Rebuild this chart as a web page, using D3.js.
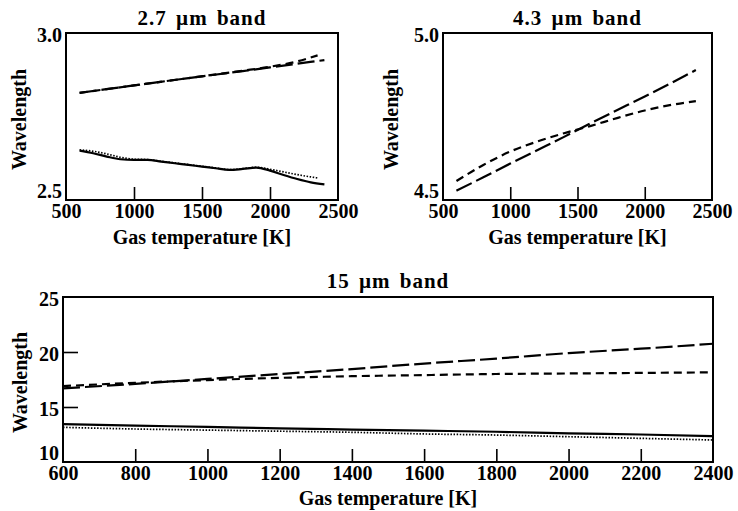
<!DOCTYPE html>
<html>
<head>
<meta charset="utf-8">
<script src="https://cdn.jsdelivr.net/npm/d3@7"></script>
<style>
  html, body { margin: 0; padding: 0; background: #fff; }
  svg { display: block; }
  text { font-family: "Liberation Serif", "Times New Roman", serif; font-weight: bold; fill: #000; }
</style>
</head>
<body>
<svg id="chart" width="738" height="511"></svg>
<script>
// --- Data ---

// 2.7 um band
const t27 = [600, 700, 800, 900, 1000, 1100, 1200, 1300, 1400, 1500, 1600, 1700, 1800, 1900, 2000, 2100, 2200, 2300, 2400];
const solid27 = [2.648, 2.640, 2.630, 2.622, 2.620, 2.620, 2.615, 2.610, 2.605, 2.600, 2.595, 2.590, 2.593, 2.597, 2.588, 2.575, 2.563, 2.553, 2.547];
const tDot27 = [600, 700, 800, 900, 1000, 1100, 1200, 1300, 1400, 1500, 1600, 1700, 1800, 1900, 2000, 2100, 2200, 2300, 2350];
const dotted27 = [2.650, 2.646, 2.638, 2.628, 2.622, 2.621, 2.616, 2.611, 2.606, 2.601, 2.596, 2.591, 2.594, 2.598, 2.592, 2.584, 2.576, 2.569, 2.566];
const tLong27 = [600, 1000, 1400, 1800, 2000, 2200, 2400];
const longDash27 = [2.821, 2.843, 2.865, 2.886, 2.897, 2.908, 2.919];
const tShort27 = [600, 1000, 1400, 1800, 2000, 2200, 2350];
const shortDash27 = [2.821, 2.843, 2.865, 2.887, 2.899, 2.915, 2.933];

// 4.3 um band
const t43 = [600, 800, 1000, 1200, 1400, 1600, 1800, 2000, 2200, 2380];
const longDash43 = [4.528, 4.568, 4.609, 4.649, 4.689, 4.730, 4.770, 4.810, 4.851, 4.889];
const shortDash43 = [4.557, 4.605, 4.645, 4.675, 4.700, 4.722, 4.746, 4.768, 4.785, 4.796];

// 15 um band
const t15 = [600, 800, 1000, 1200, 1400, 1600, 1800, 2000, 2200, 2400];
const longDash15 = [16.7, 17.1, 17.55, 18.0, 18.45, 18.95, 19.4, 19.9, 20.3, 20.75];
const shortDash15 = [16.9, 17.2, 17.45, 17.65, 17.8, 17.9, 18.0, 18.05, 18.1, 18.15];
const solid15 = [13.45, 13.3, 13.2, 13.05, 12.95, 12.85, 12.75, 12.6, 12.5, 12.35];
const dotted15 = [13.15, 13.0, 12.9, 12.8, 12.7, 12.55, 12.45, 12.3, 12.15, 12.0];

const xTicksTop = [500, 1000, 1500, 2000, 2500];
const xTicksBottom = [600, 800, 1000, 1200, 1400, 1600, 1800, 2000, 2200, 2400];

// --- Styles ---

const DASH = {
  solid: null,
  long: "17,5",
  short: "8,5",
  dotted: "1.5,1.6",
};

// --- Panels ---

const svg = d3.select("#chart");

const panels = [
  {
    title: "2.7 µm band",
    box: { x0: 66, x1: 338, y0: 33, y1: 200 },
    xDomain: [500, 2500], yDomain: [2.5, 3.0],
    xLabels: xTicksTop, xInner: [1000, 1500, 2000],
    yLabels: [2.5, 3.0], yInner: [], yFmt: d3.format(".1f"),
    titleY: 25, xLabelY: 244, yLabelX: 26,
    series: [
      { x: t27, y: solid27, style: "solid" },
      { x: tDot27, y: dotted27, style: "dotted" },
      { x: tLong27, y: longDash27, style: "long" },
      { x: tShort27, y: shortDash27, style: "short" },
    ],
  },
  {
    title: "4.3 µm band",
    box: { x0: 443, x1: 712, y0: 33, y1: 200 },
    xDomain: [500, 2500], yDomain: [4.5, 5.0],
    xLabels: xTicksTop, xInner: [1000, 1500, 2000],
    yLabels: [4.5, 5.0], yInner: [], yFmt: d3.format(".1f"),
    titleY: 25, xLabelY: 244, yLabelX: 398,
    series: [
      { x: t43, y: longDash43, style: "long" },
      { x: t43, y: shortDash43, style: "short" },
    ],
  },
  {
    title: "15 µm band",
    box: { x0: 63, x1: 713, y0: 297, y1: 462 },
    xDomain: [600, 2400], yDomain: [10, 25],
    xLabels: xTicksBottom, xInner: xTicksBottom.slice(1, -1),
    yLabels: [10, 15, 20, 25], yInner: [15, 20], yFmt: d3.format("d"),
    titleY: 288, xLabelY: 505, yLabelX: 27,
    series: [
      { x: t15, y: solid15, style: "solid" },
      { x: t15, y: dotted15, style: "dotted" },
      { x: t15, y: longDash15, style: "long" },
      { x: t15, y: shortDash15, style: "short" },
    ],
  },
];

panels.forEach(drawPanel);

function drawPanel(p) {
  const b = p.box;
  const x = d3.scaleLinear().domain(p.xDomain).range([b.x0, b.x1]);
  const y = d3.scaleLinear().domain(p.yDomain).range([b.y1, b.y0]);
  const g = svg.append("g");

  // Curves
  const line = d3.line()
    .x((d) => x(d[0]))
    .y((d) => y(d[1]))
    .curve(d3.curveMonotoneX);

  for (const s of p.series) {
    const pts = s.x.map((v, i) => [v, s.y[i]]);
    g.append("path")
      .attr("d", line(pts))
      .attr("fill", "none")
      .attr("stroke", "#000")
      .attr("stroke-width", s.style === "dotted" ? 1.7 : 2.2)
      .attr("stroke-dasharray", DASH[s.style]);
  }

  // Inner ticks
  g.append("g")
    .attr("transform", `translate(0,${b.y1})`)
    .call(d3.axisBottom(x).tickValues(p.xInner).tickSizeInner(-13).tickSizeOuter(0).tickFormat(""))
    .call((a) => a.select(".domain").remove())
    .call((a) => a.selectAll("line").attr("stroke-width", 1.6));

  if (p.yInner.length) {
    g.append("g")
      .attr("transform", `translate(${b.x0},0)`)
      .call(d3.axisLeft(y).tickValues(p.yInner).tickSizeInner(-15).tickSizeOuter(0).tickFormat(""))
      .call((a) => a.select(".domain").remove())
      .call((a) => a.selectAll("line").attr("stroke-width", 1.6));
  }

  // Tick labels
  g.append("g")
    .attr("transform", `translate(0,${b.y1})`)
    .call(d3.axisBottom(x).tickValues(p.xLabels).tickSize(0).tickPadding(4).tickFormat(d3.format("d")))
    .call((a) => a.select(".domain").remove())
    .call((a) => a.selectAll("text").style("font-size", "20px").attr("font-family", null));

  g.append("g")
    .attr("transform", `translate(${b.x0},0)`)
    .call(d3.axisLeft(y).tickValues(p.yLabels).tickSize(0).tickPadding(4).tickFormat(p.yFmt))
    .call((a) => a.select(".domain").remove())
    .call((a) => a.selectAll("text").style("font-size", "20px").attr("font-family", null)
      .attr("dy", (d) => (d === p.yDomain[0] ? "-0.12em" : "0.4em")));

  // Frame
  g.append("rect")
    .attr("x", b.x0)
    .attr("y", b.y0)
    .attr("width", b.x1 - b.x0)
    .attr("height", b.y1 - b.y0)
    .attr("fill", "none")
    .attr("stroke", "#000")
    .attr("stroke-width", 2);

  // Titles and axis labels
  const cx = (b.x0 + b.x1) / 2;
  g.append("text")
    .attr("x", cx)
    .attr("y", p.titleY)
    .attr("text-anchor", "middle")
    .style("font-size", "21px")
    .style("letter-spacing", "1px")
    .style("word-spacing", "3px")
    .text(p.title);

  g.append("text")
    .attr("x", cx)
    .attr("y", p.xLabelY)
    .attr("text-anchor", "middle")
    .style("font-size", "20px")
    .text("Gas temperature [K]");

  g.append("text")
    .attr("transform", `translate(${p.yLabelX},${(b.y0 + b.y1) / 2 + 3}) rotate(-90)`)
    .attr("text-anchor", "middle")
    .style("font-size", "20px")
    .text("Wavelength");
}
</script>
</body>
</html>
